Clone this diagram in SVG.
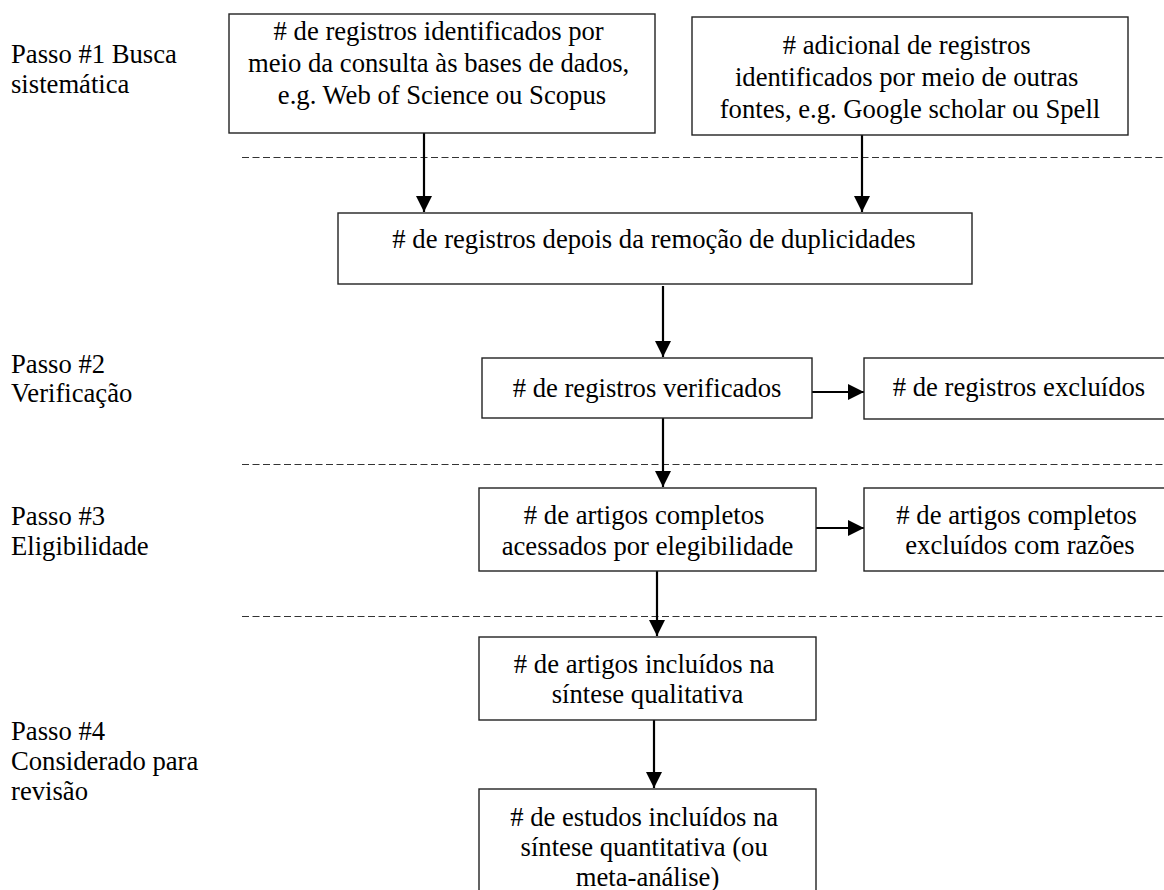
<svg xmlns="http://www.w3.org/2000/svg" width="1164" height="890" viewBox="0 0 1164 890">
<style>
text{font-family:"Liberation Serif","Times New Roman",serif;font-size:26.67px;fill:#000}
.c{text-anchor:middle}
.box{fill:#fff;stroke:#222;stroke-width:1.4}
.dash{stroke:#333;stroke-width:1.2;stroke-dasharray:7 3.5;fill:none}
.ar{stroke:#000;stroke-width:2.2;fill:none}
</style>
<defs>
<marker id="ah" markerUnits="userSpaceOnUse" markerWidth="16" markerHeight="16" refX="16" refY="8" orient="auto">
<path d="M0,0 L16,8 L0,16 Z" fill="#000"/>
</marker>
</defs>
<rect width="1164" height="890" fill="#fff"/>
<g id="labels">
<text x="11" y="63">Passo #1 Busca</text>
<text x="11" y="93">sistemática</text>
<text x="11" y="373">Passo #2</text>
<text x="11" y="402">Verificação</text>
<text x="11" y="525">Passo #3</text>
<text x="11" y="555">Eligibilidade</text>
<text x="11" y="740">Passo #4</text>
<text x="11" y="770">Considerado para</text>
<text x="11" y="800">revisão</text>
</g>
<g id="dividers">
<line class="dash" x1="242" y1="157.5" x2="1164" y2="157.5"/>
<line class="dash" x1="242" y1="464.5" x2="1164" y2="464.5"/>
<line class="dash" x1="242" y1="616.5" x2="1164" y2="616.5"/>
</g>
<g id="connectors">
<line class="ar" x1="424" y1="133" x2="424" y2="212" marker-end="url(#ah)"/>
<line class="ar" x1="862" y1="135" x2="862" y2="212" marker-end="url(#ah)"/>
<line class="ar" x1="663" y1="286" x2="663" y2="357" marker-end="url(#ah)"/>
<line class="ar" x1="812" y1="392" x2="864" y2="392" marker-end="url(#ah)"/>
<line class="ar" x1="663" y1="418" x2="663" y2="487" marker-end="url(#ah)"/>
<line class="ar" x1="816" y1="528" x2="864" y2="528" marker-end="url(#ah)"/>
<line class="ar" x1="657" y1="567" x2="657" y2="636" marker-end="url(#ah)"/>
<line class="ar" x1="654" y1="720" x2="654" y2="788" marker-end="url(#ah)"/>
</g>
<g id="n1">
<rect class="box" x="229" y="14" width="426" height="119"/>
<text class="c">
<tspan x="442" y="40"># de registros identificados por</tspan>
<tspan x="442" y="72">meio da consulta às bases de dados,</tspan>
<tspan x="442" y="104">e.g. Web of Science ou Scopus</tspan>
</text>
</g>
<g id="n2">
<rect class="box" x="692" y="17" width="436" height="118"/>
<text class="c">
<tspan x="910" y="54"># adicional de registros</tspan>
<tspan x="910" y="86">identificados por meio de outras</tspan>
<tspan x="910" y="118">fontes, e.g. Google scholar ou Spell</tspan>
</text>
</g>
<g id="n3">
<rect class="box" x="338" y="213" width="634" height="71"/>
<text class="c" x="654" y="248"># de registros depois da remoção de duplicidades</text>
</g>
<g id="n4">
<rect class="box" x="482" y="358" width="330" height="60"/>
<text class="c" x="647" y="397"># de registros verificados</text>
</g>
<g id="n5">
<rect class="box" x="864" y="358" width="312" height="61"/>
<text class="c" x="1019" y="396"># de registros excluídos</text>
</g>
<g id="n6">
<rect class="box" x="479" y="488" width="337" height="83"/>
<text class="c">
<tspan x="647.5" y="524"># de artigos completos</tspan>
<tspan x="647.5" y="555">acessados por elegibilidade</tspan>
</text>
</g>
<g id="n7">
<rect class="box" x="864" y="488" width="312" height="83"/>
<text class="c">
<tspan x="1020" y="524"># de artigos completos</tspan>
<tspan x="1020" y="554">excluídos com razões</tspan>
</text>
</g>
<g id="n8">
<rect class="box" x="479" y="637" width="337" height="83"/>
<text class="c">
<tspan x="647.5" y="673"># de artigos incluídos na</tspan>
<tspan x="647.5" y="703">síntese qualitativa</tspan>
</text>
</g>
<g id="n9">
<rect class="box" x="479" y="789" width="337" height="110"/>
<text class="c">
<tspan x="647.5" y="826"># de estudos incluídos na</tspan>
<tspan x="647.5" y="856">síntese quantitativa (ou</tspan>
<tspan x="647.5" y="886">meta-análise)</tspan>
</text>
</g>
</svg>
